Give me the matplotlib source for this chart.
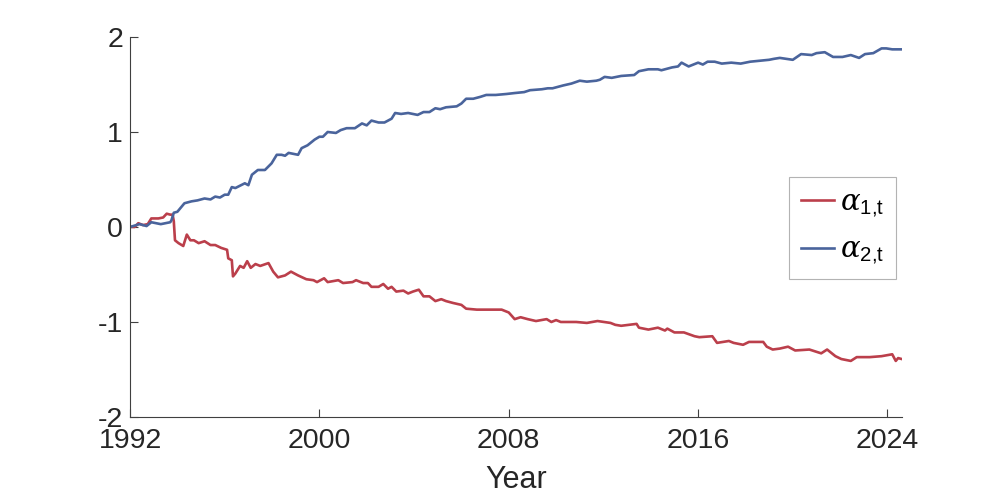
import numpy as np
import matplotlib
matplotlib.use('Agg')
import matplotlib.pyplot as plt

plt.rcParams['font.family'] = ['Liberation Sans', 'DejaVu Sans']
plt.rcParams['mathtext.fontset'] = 'custom'
plt.rcParams['mathtext.rm'] = 'Liberation Sans'
plt.rcParams['mathtext.it'] = 'DejaVu Serif:italic'
plt.rcParams['axes.unicode_minus'] = False

# values (year, level)
t1 = [1992.0, 1992.2, 1992.35, 1992.55, 1992.75, 1992.9, 1993.2, 1993.4, 1993.55, 1993.7,
      1993.8, 1993.85, 1993.9, 1994.05, 1994.25, 1994.4, 1994.55, 1994.7, 1994.9, 1995.15,
      1995.4, 1995.6, 1995.85, 1996.1, 1996.15, 1996.3, 1996.35, 1996.45, 1996.65, 1996.8,
      1996.95, 1997.1, 1997.3, 1997.5, 1997.85, 1998.05, 1998.25, 1998.55, 1998.8, 1999.1,
      1999.45, 1999.75, 1999.9, 2000.2, 2000.35, 2000.8, 2001.0, 2001.4, 2001.55, 2001.85,
      2002.05, 2002.2, 2002.5, 2002.7, 2002.9, 2003.05, 2003.25, 2003.55, 2003.75, 2003.95,
      2004.2, 2004.4, 2004.65, 2004.9, 2005.15, 2005.35, 2005.65, 2006.0, 2006.2, 2006.65,
      2007.2, 2007.7, 2008.0, 2008.25, 2008.5, 2008.8, 2009.15, 2009.6, 2009.8, 2010.0,
      2010.2, 2010.85, 2011.3, 2011.75, 2012.3, 2012.5, 2012.75, 2013.4, 2013.5, 2013.9,
      2014.3, 2014.6, 2014.7, 2015.0, 2015.4, 2015.85, 2016.05, 2016.6, 2016.8, 2017.3,
      2017.5, 2017.9, 2018.15, 2018.75, 2018.9, 2019.15, 2019.45, 2019.8, 2020.1, 2020.7,
      2021.2, 2021.45, 2021.8, 2022.05, 2022.45, 2022.7, 2023.25, 2023.75, 2024.2, 2024.35,
      2024.45, 2024.6]
a1 = [0.0, 0.0, 0.04, 0.02, 0.03, 0.09, 0.09, 0.10, 0.14, 0.13,
      0.13, 0.06, -0.14, -0.17, -0.20, -0.08, -0.14, -0.14, -0.17, -0.15,
      -0.19, -0.19, -0.22, -0.24, -0.33, -0.35, -0.52, -0.49, -0.41, -0.43,
      -0.36, -0.43, -0.39, -0.41, -0.38, -0.47, -0.53, -0.51, -0.47, -0.51,
      -0.55, -0.56, -0.58, -0.54, -0.58, -0.56, -0.59, -0.58, -0.56, -0.59,
      -0.59, -0.63, -0.63, -0.60, -0.65, -0.63, -0.68, -0.67, -0.70, -0.68,
      -0.66, -0.73, -0.73, -0.78, -0.76, -0.78, -0.80, -0.82, -0.86, -0.87,
      -0.87, -0.87, -0.90, -0.97, -0.95, -0.97, -0.99, -0.97, -1.00, -0.98,
      -1.00, -1.00, -1.01, -0.99, -1.01, -1.03, -1.04, -1.02, -1.06, -1.08,
      -1.06, -1.09, -1.07, -1.11, -1.11, -1.15, -1.16, -1.15, -1.22, -1.20,
      -1.22, -1.24, -1.21, -1.21, -1.26, -1.29, -1.28, -1.26, -1.30, -1.29,
      -1.33, -1.29, -1.36, -1.39, -1.41, -1.37, -1.37, -1.36, -1.34, -1.41,
      -1.38, -1.39]

t2 = [1992.0, 1992.4, 1992.7, 1992.9, 1993.3, 1993.7, 1993.75, 1993.85, 1994.0, 1994.3,
      1994.6, 1994.85, 1995.15, 1995.4, 1995.6, 1995.8, 1996.0, 1996.15, 1996.3, 1996.45,
      1996.85, 1997.0, 1997.15,
      1997.4, 1997.7, 1997.98, 1998.2, 1998.4, 1998.55, 1998.7, 1999.1, 1999.25, 1999.5,
      1999.8, 2000.0, 2000.15, 2000.35, 2000.7, 2000.9, 2001.15, 2001.5, 2001.8, 2002.0,
      2002.2, 2002.5, 2002.75, 2003.05, 2003.2, 2003.45, 2003.75, 2004.15, 2004.4, 2004.65,
      2004.9, 2005.1, 2005.35, 2005.8, 2006.0, 2006.2, 2006.5, 2006.8, 2007.05, 2007.45,
      2007.9, 2008.25, 2008.65, 2008.9, 2009.4, 2009.65, 2009.85, 2010.3, 2010.65, 2011.0,
      2011.3, 2011.7, 2011.85, 2012.05, 2012.35, 2012.75, 2013.3, 2013.5, 2013.9, 2014.3,
      2014.45, 2014.9, 2015.15, 2015.3, 2015.6, 2016.0, 2016.2, 2016.4, 2016.7, 2017.0,
      2017.4, 2017.8, 2018.2, 2018.6, 2019.0, 2019.2, 2019.45, 2020.0, 2020.35, 2020.8,
      2021.0, 2021.35, 2021.7, 2022.1, 2022.45, 2022.8, 2023.05, 2023.4, 2023.75, 2023.95,
      2024.2, 2024.6]
a2 = [0.0, 0.03, 0.01, 0.05, 0.03, 0.05, 0.07, 0.15, 0.16, 0.25,
      0.27, 0.28, 0.30, 0.29, 0.32, 0.31, 0.34, 0.34, 0.42, 0.41,
      0.46, 0.44, 0.55,
      0.60, 0.60, 0.67, 0.76, 0.76, 0.75, 0.78, 0.76, 0.83, 0.86,
      0.92, 0.95, 0.95, 1.00, 0.99, 1.02, 1.04, 1.04, 1.09, 1.07,
      1.12, 1.10, 1.10, 1.14, 1.20, 1.19, 1.20, 1.18, 1.21, 1.21,
      1.25, 1.24, 1.26, 1.27, 1.30, 1.35, 1.35, 1.37, 1.39, 1.39,
      1.40, 1.41, 1.42, 1.44, 1.45, 1.46, 1.46, 1.49, 1.51, 1.54,
      1.53, 1.54, 1.55, 1.58, 1.57, 1.59, 1.60, 1.64, 1.66, 1.66,
      1.65, 1.68, 1.69, 1.73, 1.69, 1.73, 1.71, 1.74, 1.74, 1.72,
      1.73, 1.72, 1.74, 1.75, 1.76, 1.77, 1.78, 1.76, 1.82, 1.81,
      1.83, 1.84, 1.79, 1.79, 1.81, 1.78, 1.82, 1.83, 1.88, 1.88,
      1.87, 1.87]

red = '#bb3f4b'
blue = '#4a649c'
axcol = '#404040'

fig = plt.figure(figsize=(9.97, 4.98), dpi=100)
ax = fig.add_axes([0.1304, 0.1627, 0.774, 0.763])

ax.plot(t1, a1, color=red, lw=1.9, label=r'$\alpha_{\mathrm{1{,}t}}$')
ax.plot(t2, a2, color=blue, lw=1.9, label=r'$\alpha_{\mathrm{2{,}t}}$')

ax.set_xlim(1992, 2024.6)
ax.set_ylim(-2, 2)
ax.set_xticks([1992, 2000, 2008, 2016, 2024])
ax.set_yticks([-2, -1, 0, 1, 2])
ax.spines['top'].set_visible(False)
ax.spines['right'].set_visible(False)
for s in ['left', 'bottom']:
    ax.spines[s].set_color(axcol)
    ax.spines[s].set_linewidth(0.8)
ax.tick_params(direction='in', length=6, width=0.8, color=axcol,
               labelsize=20.5, labelcolor='#262626')
ax.tick_params(axis='x', pad=8)
ax.tick_params(axis='y', pad=5)
ax.set_xlabel('Year', fontsize=22, color='#262626', labelpad=8)

leg = ax.legend(loc='upper left', bbox_to_anchor=(0.854, 0.632), borderaxespad=0,
                fontsize=21, frameon=True, fancybox=False, handlelength=1.15,
                handletextpad=0.2, borderpad=0.4, labelspacing=0.55)
leg.get_frame().set_edgecolor('#a0a0a0')
leg.get_frame().set_linewidth(0.8)

fig.savefig('out.png', dpi=100)
